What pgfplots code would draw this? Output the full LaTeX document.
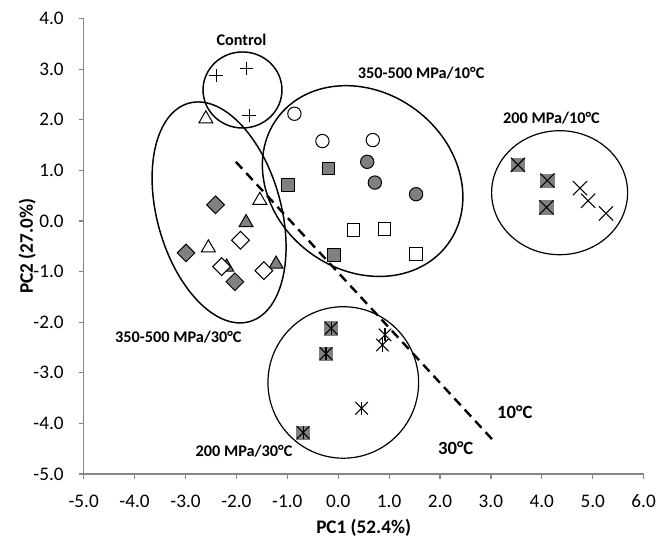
\documentclass[border=0pt]{standalone}
\usepackage{fontspec}
\setmainfont{Carlito}
\usepackage{pgfplots}
\pgfplotsset{compat=1.18}
\definecolor{axgray}{RGB}{134,134,134}
\definecolor{mkgray}{RGB}{128,128,128}

\begin{document}
\begin{tikzpicture}
\begin{axis}[
  scale only axis, width=419.9pt, height=341.55pt,
  xmin=-5, xmax=6, ymin=-5, ymax=4,
  xtick={-5,-4,...,6}, ytick={-5,-4,...,4},
  axis lines=left, axis line style={-, draw=axgray, line width=0.9pt},
  tick align=outside, major tick length=3.5pt,
  tick style={draw=axgray, line width=0.9pt},
  tick label style={font=\fontsize{14.4}{17}\selectfont, black},
  xticklabel style={yshift=-8.5pt},
  yticklabel style={xshift=-8pt},
  /pgf/number format/.cd, fixed, fixed zerofill, precision=1, assume math mode=true, /pgfplots/.cd,
  xlabel={PC1 (52.4\%)}, ylabel={PC2 (27.0\%)},
  every axis x label/.style={at={(axis description cs:0.5,0)}, yshift=-40pt, anchor=center, font=\bfseries\fontsize{14.4}{17}\selectfont},
  every axis y label/.style={at={(axis description cs:-0.101,0.5)}, rotate=90, anchor=center, font=\bfseries\fontsize{14.4}{17}\selectfont},
  clip=false,
]
% group outlines
\draw[line width=1.1pt] (axis cs:-1.88,2.59) ellipse [x radius=29.6pt, y radius=28.5pt];
\draw[line width=1.1pt, rotate around={-36.7:(axis cs:0.48,0.79)}] (axis cs:0.48,0.79) ellipse [x radius=79.5pt, y radius=66.7pt];
\draw[line width=1.1pt, rotate around={-74.5:(axis cs:-2.34,0.17)}] (axis cs:-2.34,0.17) ellipse [x radius=85pt, y radius=46.5pt];
\draw[line width=0.9pt] (axis cs:4.35,0.56) ellipse [x radius=51pt, y radius=46.5pt];
\draw[line width=0.9pt] (axis cs:0.10,-3.19) ellipse [x radius=56.5pt, y radius=56.8pt];

% separation line
\addplot[black, line width=1.8pt, dash pattern=on 7pt off 4.5pt, mark=none] coordinates {(-2.01,1.17) (3.04,-4.33)};

% Control
\addplot[only marks, mark=+, mark size=5pt, mark options={line width=0.7pt, black}] coordinates {(-2.40,2.87) (-1.80,3.02) (-1.75,2.08)};
% 350-500 MPa/30 C
\addplot[only marks, mark=triangle*, mark size=6pt, mark options={fill=white, draw=black, line width=0.75pt}] coordinates {(-2.60,2.02) (-1.54,0.41) (-2.55,-0.53)};
\addplot[only marks, mark=triangle*, mark size=6pt, mark options={fill=mkgray, draw=black, line width=0.75pt}] coordinates {(-1.81,-0.03) (-2.19,-0.91) (-1.22,-0.85)};
\addplot[only marks, mark=square*, mark size=4.7pt, mark options={rotate=45, fill=mkgray, draw=black, line width=0.75pt}] coordinates {(-2.41,0.32) (-2.99,-0.63) (-2.03,-1.20)};
\addplot[only marks, mark=square*, mark size=4.7pt, mark options={rotate=45, fill=white, draw=black, line width=0.75pt}] coordinates {(-1.92,-0.38) (-2.29,-0.90) (-1.46,-0.98)};
% 350-500 MPa/10 C
\addplot[only marks, mark=*, mark size=5pt, mark options={fill=white, draw=black, line width=0.75pt}] coordinates {(-0.86,2.12) (-0.31,1.58) (0.68,1.60)};
\addplot[only marks, mark=*, mark size=5pt, mark options={fill=mkgray, draw=black, line width=0.75pt}] coordinates {(0.57,1.17) (0.72,0.76) (1.53,0.53)};
\addplot[only marks, mark=square*, mark size=4.8pt, mark options={fill=mkgray, draw=black, line width=0.75pt}] coordinates {(-0.19,1.04) (-0.99,0.71) (-0.09,-0.67)};
\addplot[only marks, mark=square*, mark size=4.8pt, mark options={fill=white, draw=black, line width=0.75pt}] coordinates {(0.30,-0.18) (0.91,-0.16) (1.53,-0.65)};
% 200 MPa/10 C
\addplot[only marks, mark=square*, mark size=5pt, mark options={fill=mkgray, draw=mkgray, line width=0.5pt}] coordinates {(3.53,1.11) (4.11,0.80) (4.09,0.27)};
\addplot[only marks, mark=x, mark size=7.5pt, mark options={black, line width=0.8pt}] coordinates {(3.53,1.11) (4.11,0.80) (4.09,0.27)};
\addplot[only marks, mark=x, mark size=7.5pt, mark options={black, line width=0.8pt}] coordinates {(4.75,0.65) (4.91,0.40) (5.26,0.15)};
% 200 MPa/30 C
\addplot[only marks, mark=square*, mark size=5pt, mark options={fill=mkgray, draw=mkgray, line width=0.5pt}] coordinates {(-0.14,-2.12) (-0.24,-2.62) (-0.69,-4.18)};
\addplot[only marks, mark=x, mark size=6.6pt, mark options={black, line width=0.8pt}] coordinates {(-0.14,-2.12) (-0.24,-2.62) (-0.69,-4.18) (0.92,-2.25) (0.87,-2.45) (0.46,-3.70)};
\addplot[only marks, mark=|, mark size=4.9pt, mark options={black, line width=0.8pt}] coordinates {(-0.14,-2.12) (-0.24,-2.62) (-0.69,-4.18) (0.92,-2.25) (0.87,-2.45) (0.46,-3.70)};

% labels
\node[font=\bfseries\fontsize{12.2}{14}\selectfont] at (axis cs:-1.90,3.58) {Control};
\node[font=\bfseries\fontsize{12.2}{14}\selectfont] at (axis cs:1.63,2.93) {350-500 MPa/10°C};
\node[font=\bfseries\fontsize{12.2}{14}\selectfont] at (axis cs:4.19,2.03) {200 MPa/10°C};
\node[font=\bfseries\fontsize{12.2}{14}\selectfont] at (axis cs:-3.14,-2.29) {350-500 MPa/30°C};
\node[font=\bfseries\fontsize{12.2}{14}\selectfont] at (axis cs:-1.85,-4.55) {200 MPa/30°C};
\node[font=\bfseries\fontsize{14}{16}\selectfont] at (axis cs:3.47,-3.77) {10°C};
\node[font=\bfseries\fontsize{14}{16}\selectfont] at (axis cs:2.31,-4.49) {30°C};

\coordinate (bbsw) at (axis cs:-6.644,-6.265);
\coordinate (bbne) at (axis cs:6.263,4.368);
\end{axis}
\pgfresetboundingbox
\useasboundingbox (bbsw) rectangle (bbne);
\end{tikzpicture}
\end{document}
